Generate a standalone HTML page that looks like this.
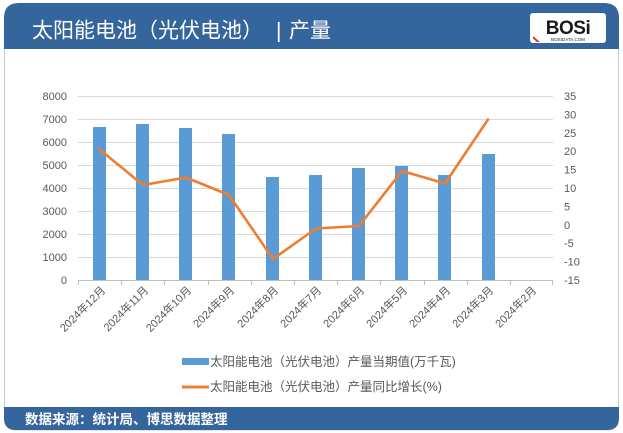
<!DOCTYPE html>
<html><head><meta charset="utf-8">
<style>
html,body{margin:0;padding:0;background:#fff;}
body{width:623px;height:433px;overflow:hidden;position:relative;font-family:"Liberation Sans","Noto Sans CJK SC",sans-serif;}
svg{position:absolute;left:0;top:0;}
</style></head><body>
<svg width="623" height="433" viewBox="0 0 623 433" xmlns="http://www.w3.org/2000/svg" font-family="Liberation Sans, Noto Sans CJK SC, sans-serif">
  <!-- frame -->
  <path d="M4.5,49 L4.5,418 Q4.5,430 16,430 L607,430 Q618.5,430 618.5,418 L618.5,49" fill="#fff" stroke="#c9c9c9" stroke-width="1"/>
  <!-- header -->
  <path d="M4,49 L4,18 Q4,3 19,3 L604,3 Q619,3 619,18 L619,49 Z" fill="#34659d"/>
  <text x="32" y="37.5" font-size="21" fill="#fff" font-family="Liberation Sans, Noto Sans CJK SC, sans-serif">太阳能电池（光伏电池）<tspan x="276">|</tspan><tspan x="289">产量</tspan></text>
  <!-- logo -->
  <rect x="530" y="13" width="76" height="30" rx="3" fill="#fff"/>
  <text x="568" y="34" font-size="19" font-weight="bold" fill="#1a1a1a" text-anchor="middle" font-family="Liberation Sans, sans-serif" letter-spacing="-0.5">BOSi</text>
  <text x="568" y="41" font-size="4.5" fill="#1a1a1a" text-anchor="middle" font-family="Liberation Sans, sans-serif">BOSIDATA.COM</text>
  <path d="M533,36 L540,42 L537,42 L533,38.5 Z" fill="#c0392b"/>
  <!-- footer -->
  <path d="M4,407 L619,407 L619,418 Q619,430 607,430 L16,430 Q4,430 4,418 Z" fill="#34659d"/>
  <text x="25" y="424" font-size="13.5" fill="#fff" font-weight="bold">数据来源：统计局、博思数据整理</text>

  <!-- gridlines -->
  <g stroke="#d9d9d9" stroke-width="1">
    <line x1="78" y1="96.5" x2="553" y2="96.5"/>
    <line x1="78" y1="119.5" x2="553" y2="119.5"/>
    <line x1="78" y1="142.5" x2="553" y2="142.5"/>
    <line x1="78" y1="165.5" x2="553" y2="165.5"/>
    <line x1="78" y1="188.5" x2="553" y2="188.5"/>
    <line x1="78" y1="211.5" x2="553" y2="211.5"/>
    <line x1="78" y1="234.5" x2="553" y2="234.5"/>
    <line x1="78" y1="257.5" x2="553" y2="257.5"/>
  </g>
  <!-- bars -->
  <g fill="#5b9bd5">
    <rect x="93" y="127" width="13" height="153"/>
    <rect x="136" y="124" width="13" height="156"/>
    <rect x="179" y="128" width="13" height="152"/>
    <rect x="222" y="134" width="13" height="146"/>
    <rect x="266" y="177" width="13" height="103"/>
    <rect x="309" y="175" width="13" height="105"/>
    <rect x="352" y="168" width="13" height="112"/>
    <rect x="395" y="166" width="13" height="114"/>
    <rect x="438" y="175" width="13" height="105"/>
    <rect x="482" y="154" width="13" height="126"/>
  </g>
  <!-- x axis -->
  <g stroke="#bfbfbf" stroke-width="1">
    <line x1="78" y1="280.5" x2="553" y2="280.5"/>
    <line x1="78.5" y1="280" x2="78.5" y2="285"/>
    <line x1="121.5" y1="280" x2="121.5" y2="285"/>
    <line x1="164.5" y1="280" x2="164.5" y2="285"/>
    <line x1="208.5" y1="280" x2="208.5" y2="285"/>
    <line x1="251.5" y1="280" x2="251.5" y2="285"/>
    <line x1="294.5" y1="280" x2="294.5" y2="285"/>
    <line x1="337.5" y1="280" x2="337.5" y2="285"/>
    <line x1="380.5" y1="280" x2="380.5" y2="285"/>
    <line x1="424.5" y1="280" x2="424.5" y2="285"/>
    <line x1="467.5" y1="280" x2="467.5" y2="285"/>
    <line x1="510.5" y1="280" x2="510.5" y2="285"/>
    <line x1="552.5" y1="280" x2="552.5" y2="285"/>
  </g>
  <!-- line series -->
  <polyline points="99,149 143,185 186,177.5 229,195 273,259 316,228.5 359,226 402,171 445,183.5 488,119.5" fill="none" stroke="#ed7d31" stroke-width="2.6" stroke-linejoin="round" stroke-linecap="round"/>

  <!-- left axis labels -->
  <g font-size="11" fill="#595959" text-anchor="end">
    <text x="67" y="100">8000</text>
    <text x="67" y="123">7000</text>
    <text x="67" y="146">6000</text>
    <text x="67" y="169">5000</text>
    <text x="67" y="192">4000</text>
    <text x="67" y="215">3000</text>
    <text x="67" y="238">2000</text>
    <text x="67" y="261">1000</text>
    <text x="67" y="284">0</text>
  </g>
  <!-- right axis labels -->
  <g font-size="11" fill="#595959">
    <text x="564" y="100">35</text>
    <text x="564" y="118.4">30</text>
    <text x="564" y="136.8">25</text>
    <text x="564" y="155.2">20</text>
    <text x="564" y="173.6">15</text>
    <text x="564" y="192">10</text>
    <text x="564" y="210.4">5</text>
    <text x="564" y="228.8">0</text>
    <text x="564" y="247.2">-5</text>
    <text x="564" y="265.6">-10</text>
    <text x="564" y="284">-15</text>
  </g>
  <!-- x labels -->
  <g font-size="11" fill="#595959" text-anchor="end">
    <text transform="translate(106,291) rotate(-45)">2024年12月</text>
    <text transform="translate(149,291) rotate(-45)">2024年11月</text>
    <text transform="translate(192,291) rotate(-45)">2024年10月</text>
    <text transform="translate(235,291) rotate(-45)">2024年9月</text>
    <text transform="translate(279,291) rotate(-45)">2024年8月</text>
    <text transform="translate(322,291) rotate(-45)">2024年7月</text>
    <text transform="translate(365,291) rotate(-45)">2024年6月</text>
    <text transform="translate(408,291) rotate(-45)">2024年5月</text>
    <text transform="translate(451,291) rotate(-45)">2024年4月</text>
    <text transform="translate(494,291) rotate(-45)">2024年3月</text>
    <text transform="translate(537,291) rotate(-45)">2024年2月</text>
  </g>
  <!-- legend -->
  <rect x="182" y="358" width="27" height="7" fill="#5b9bd5"/>
  <text x="210" y="366" font-size="12.5" fill="#595959">太阳能电池（光伏电池）产量当期值(万千瓦)</text>
  <line x1="182" y1="387" x2="209" y2="387" stroke="#ed7d31" stroke-width="3"/>
  <text x="210" y="391" font-size="12.5" fill="#595959">太阳能电池（光伏电池）产量同比增长(%)</text>
</svg>
</body></html>
